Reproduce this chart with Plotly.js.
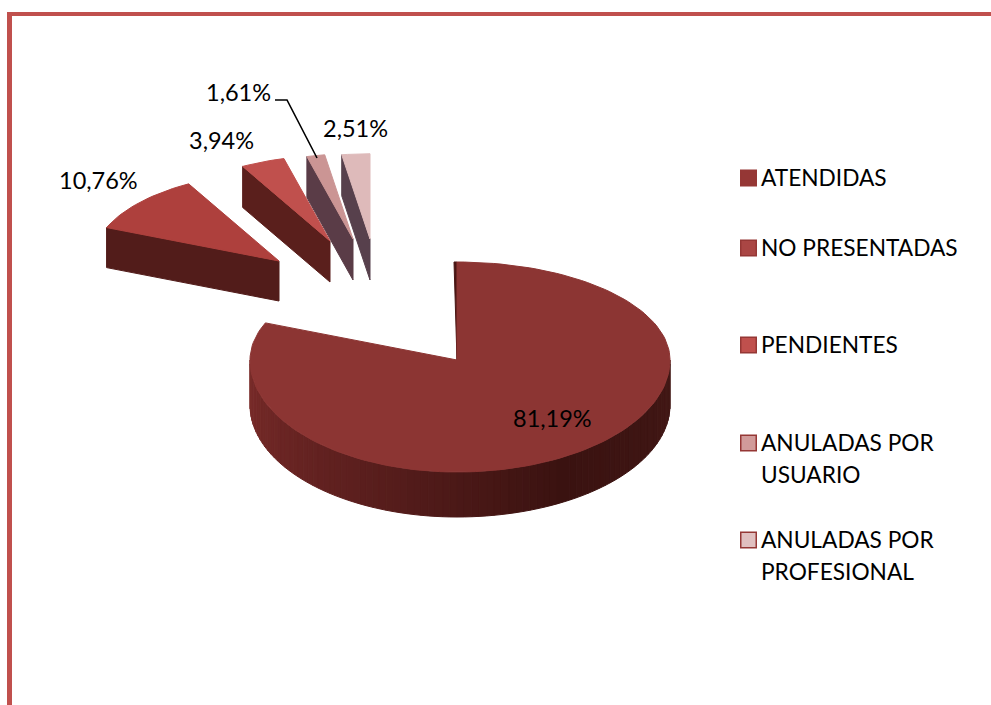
<!DOCTYPE html>
<html><head><meta charset="utf-8">
<script src="https://cdn.plot.ly/plotly-3.0.1.min.js"></script>
<style>html,body{margin:0;padding:0;background:#fff}#chart{width:991px;height:705px}</style>
</head><body><div id="chart"></div>
<script>
const categories = ["ATENDIDAS","NO PRESENTADAS","PENDIENTES","ANULADAS POR<br>USUARIO","ANULADAS POR<br>PROFESIONAL"];
const values = [81.19,10.76,3.94,1.61,2.51];
const valueLabels = ["81,19%","10,76%","3,94%","1,61%","2,51%"];

const topColors = ["#8C3533","#AE403D","#C0504D","#CB9594","#DEBABA"];
const wallColors = ["#5c1f1e","#521c1a","#5a1f1c","#5a3c47","#57404c"];
const legendFill = ["#953735","#AA4644","#C0504D","#D19B9A","#E0BFBF"];
const apexX = [457,279,330,353,370];
const apexY = [360,261,241,239,239];
const sliceScale = [1,0.9,0.87,0.87,0.87];
const sliceDepth = [45,40,41,41,41];
const labelX = [552,98,221,238,355];
const labelY = [418,180,140,92,128];
const legendY = [178,248,345,443,540];
const FONT = "Lato, Carlito, Calibri, sans-serif";
const LABEL_FS = 23.5;
const LEGEND_FS = 22.7;

const total = values.reduce((a,b)=>a+b,0);
let acc = 0;
const starts = values.map(v=>{const s=acc; acc+=v/total*360; return s;});
const ends = values.map((v,i)=>starts[i]+v/total*360);

function pt(i,deg,dz){
  const t = deg*Math.PI/180, s = Math.sin(t), c = Math.cos(t);
  const rx = s>0?213:207, ry = c>0?98:112, k = sliceScale[i];
  return [apexX[i]+rx*s*k, apexY[i]-ry*c*k+(dz||0)];
}
function arc(i,a,b,dz){
  const out=[], n=Math.max(2,Math.ceil(Math.abs(b-a)/2));
  for(let j=0;j<=n;j++) out.push(pt(i,a+(b-a)*j/n,dz));
  return out;
}
const traces=[];
function poly(points,color){
  traces.push({type:"scatter",mode:"lines",x:points.map(p=>p[0]).concat(points[0][0]),
    y:points.map(p=>p[1]).concat(points[0][1]),fill:"toself",fillcolor:color,
    line:{color:color,width:1},hoverinfo:"skip",showlegend:false});
}
function mix(a,b,t){const r=a.map((v,i)=>Math.round(v+(b[i]-v)*t));return `rgb(${r[0]},${r[1]},${r[2]})`;}

// exploded small slices, back to front
[1,4,3,2].forEach(i=>{
  const inner=[apexX[i],apexY[i]], d=sliceDepth[i], edge=pt(i,starts[i]);
  poly([inner,[inner[0],inner[1]+d],[edge[0],edge[1]+d],edge],wallColors[i]);
  poly([inner].concat(arc(i,starts[i],ends[i])),topColors[i]);
});
// main slice: outer wall with a shaded sweep, then the top face
const wallStops=[[122,44,42],[92,31,30],[58,18,16],[66,24,22]];
function wallColor(t){
  const f=t*(wallStops.length-1), j=Math.min(wallStops.length-2,Math.floor(f));
  return mix(wallStops[j],wallStops[j+1],f-j);
}
const SEG=90;
for(let j=0;j<SEG;j++){
  const a=270-180*j/SEG, b=270-180*(j+1)/SEG;
  const upper=arc(0,a,b), lower=arc(0,b,a,sliceDepth[0]);
  poly(upper.concat(lower),wallColor(j/(SEG-1)));
}
poly([[apexX[0],apexY[0]],pt(0,0),[apexX[0]-3,pt(0,0)[1]]],"#4a1614");
poly([[apexX[0],apexY[0]]].concat(arc(0,starts[0],ends[0])),topColors[0]);

// legend swatches, as markers on the same axes
traces.push({type:"scatter",mode:"markers",x:legendY.map(()=>748.5),y:legendY,
  marker:{symbol:"square",size:15.5,color:legendFill,line:{color:"#953735",width:1.5}},
  hoverinfo:"skip",showlegend:false});

const annotations=[];
valueLabels.forEach((t,i)=>annotations.push({x:labelX[i],y:labelY[i],text:t,showarrow:false,
  xanchor:"center",yanchor:"middle",font:{family:FONT,size:LABEL_FS,color:"#000"}}));
categories.forEach((c,i)=>c.split("<br>").forEach((line,k)=>annotations.push({
  x:759,y:legendY[i]-1+k*32,text:line,showarrow:false,xanchor:"left",yanchor:"middle",
  font:{family:FONT,size:LEGEND_FS,color:"#000"}})));

const border="#C0504D";
const shapes=[
  {type:"rect",xref:"x",yref:"y",x0:7,x1:12,y0:12,y1:705,fillcolor:border,line:{width:0}},
  {type:"rect",xref:"x",yref:"y",x0:7,x1:991,y0:12,y1:16,fillcolor:border,line:{width:0}},
  {type:"path",path:"M 275 100 L 287 100 L 317 158",line:{color:"#000",width:1.6}}
];
Plotly.newPlot("chart",traces,{
  width:991,height:705,margin:{l:0,r:0,t:0,b:0},paper_bgcolor:"#fff",plot_bgcolor:"#fff",
  xaxis:{range:[0,991],visible:false,fixedrange:true},
  yaxis:{range:[705,0],visible:false,fixedrange:true},
  showlegend:false,shapes:shapes,annotations:annotations
},{displayModeBar:false,staticPlot:true});
</script></body></html>
